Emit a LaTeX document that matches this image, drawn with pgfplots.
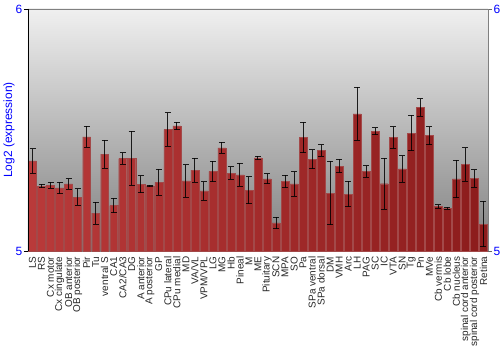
\documentclass[border=0pt]{standalone}
\usepackage{pgfplots}
\pgfplotsset{compat=1.18}
\usepackage{pgfplotstable}
\usepackage{fontspec}
\setmainfont{Liberation Sans}
\definecolor{axblue}{RGB}{0,0,255}
\definecolor{barL}{RGB}{185,58,58}
\definecolor{barM}{RGB}{198,72,72}
\definecolor{barR}{RGB}{140,28,28}
\pgfplotstableread{
x y e
0 5.372 0.051
1 5.268 0.007
2 5.272 0.012
3 5.261 0.024
4 5.277 0.021
5 5.223 0.034
6 5.472 0.044
7 5.156 0.046
8 5.400 0.058
9 5.188 0.029
10 5.382 0.024
11 5.383 0.112
12 5.275 0.035
13 5.270 0.002
14 5.284 0.053
15 5.502 0.070
16 5.517 0.016
17 5.290 0.067
18 5.334 0.050
19 5.248 0.039
20 5.329 0.042
21 5.426 0.023
22 5.322 0.026
23 5.315 0.048
24 5.251 0.055
25 5.385 0.007
26 5.298 0.021
27 5.116 0.024
28 5.288 0.026
29 5.277 0.050
30 5.469 0.062
31 5.379 0.039
32 5.415 0.024
33 5.239 0.131
34 5.351 0.028
35 5.235 0.053
36 5.567 0.110
37 5.328 0.024
38 5.495 0.014
39 5.278 0.106
40 5.469 0.045
41 5.339 0.055
42 5.487 0.073
43 5.593 0.037
44 5.477 0.037
45 5.184 0.008
46 5.177 0.004
47 5.298 0.078
48 5.357 0.069
49 5.300 0.036
50 5.111 0.094
}\data
\begin{document}
\begin{tikzpicture}
\begin{axis}[
  at={(0,0)}, anchor=south west,
  scale only axis, width=460bp, height=242bp,
  xmin=-0.5, xmax=50.5, ymin=5, ymax=6,
  axis background/.style={top color=black!6, bottom color=black!50},
  axis line style={draw=black!50},
  xtick={0,...,50},
  xticklabels={LS, RS, Cx motor, Cx cingulate, OB anterior, OB posterior, Pir, Tu, ventral S, CA1, CA2/CA3, DG, A anterior, A posterior, GP, CPu lateral, CPu medial, MD, VA/VL, VPM/VPL, LG, MG, Hb, Pineal, M, ME, Pituitary, SCN, MPA, SO, Pa, SPa ventral, SPa dorsal, DM, VMH, Arc, LH, PAG, SC, IC, VTA, SN, Tg, Pn, MVe, Cb vermis, Cb lobe, Cb nucleus, spinal cord anterior, spinal cord posterior, Retina},
  x tick label style={rotate=90, anchor=east, font=\fontsize{10}{10}\selectfont, text=black!85, inner sep=1.5bp},
  x tick style={draw=none},
  ytick={5,6},
  ytick pos=left,
  tick align=outside,
  major tick length=4bp,
  y tick style={black},
  y tick label style={font=\fontsize{12}{12}\selectfont, text=axblue, inner sep=1.5bp},
  /pgf/number format/assume math mode=true,
  ylabel={Log2 (expression)},
  every axis y label/.style={at={([xshift=-19bp]axis description cs:0,0.5)}, rotate=90, anchor=center, font=\fontsize{12}{12}\selectfont, text=axblue},
]
\addplot[ybar, bar width=0.88, draw=barR!80, line width=0.3bp,
  left color=barL, middle color=barM, right color=barR,
  error bars/.cd, y dir=both, y explicit,
  error bar style={black, line width=1bp, opacity=0.85},
  error mark options={rotate=90, mark size=3bp, black, line width=1bp}]
  table[x=x, y=y, y error=e]{\data};
\draw[black, line width=0.8bp] (rel axis cs:0,0) -- (rel axis cs:0,1);
\end{axis}
\begin{axis}[
  at={(0,0)}, anchor=south west,
  scale only axis, width=460bp, height=242bp,
  xmin=-0.5, xmax=50.5, ymin=5, ymax=6,
  axis x line=none,
  axis y line*=right,
  axis line style={draw=black!50},
  ytick={5,6},
  tick align=outside,
  major tick length=4bp,
  y tick style={black!60},
  y tick label style={font=\fontsize{12}{12}\selectfont, text=axblue, inner sep=1.5bp},
  /pgf/number format/assume math mode=true,
]
\addplot[draw=none] coordinates {(0,5.5)};
\end{axis}
\pgfresetboundingbox
\path (-28bp,-99bp) rectangle (472bp,251bp);
\end{tikzpicture}
\end{document}
